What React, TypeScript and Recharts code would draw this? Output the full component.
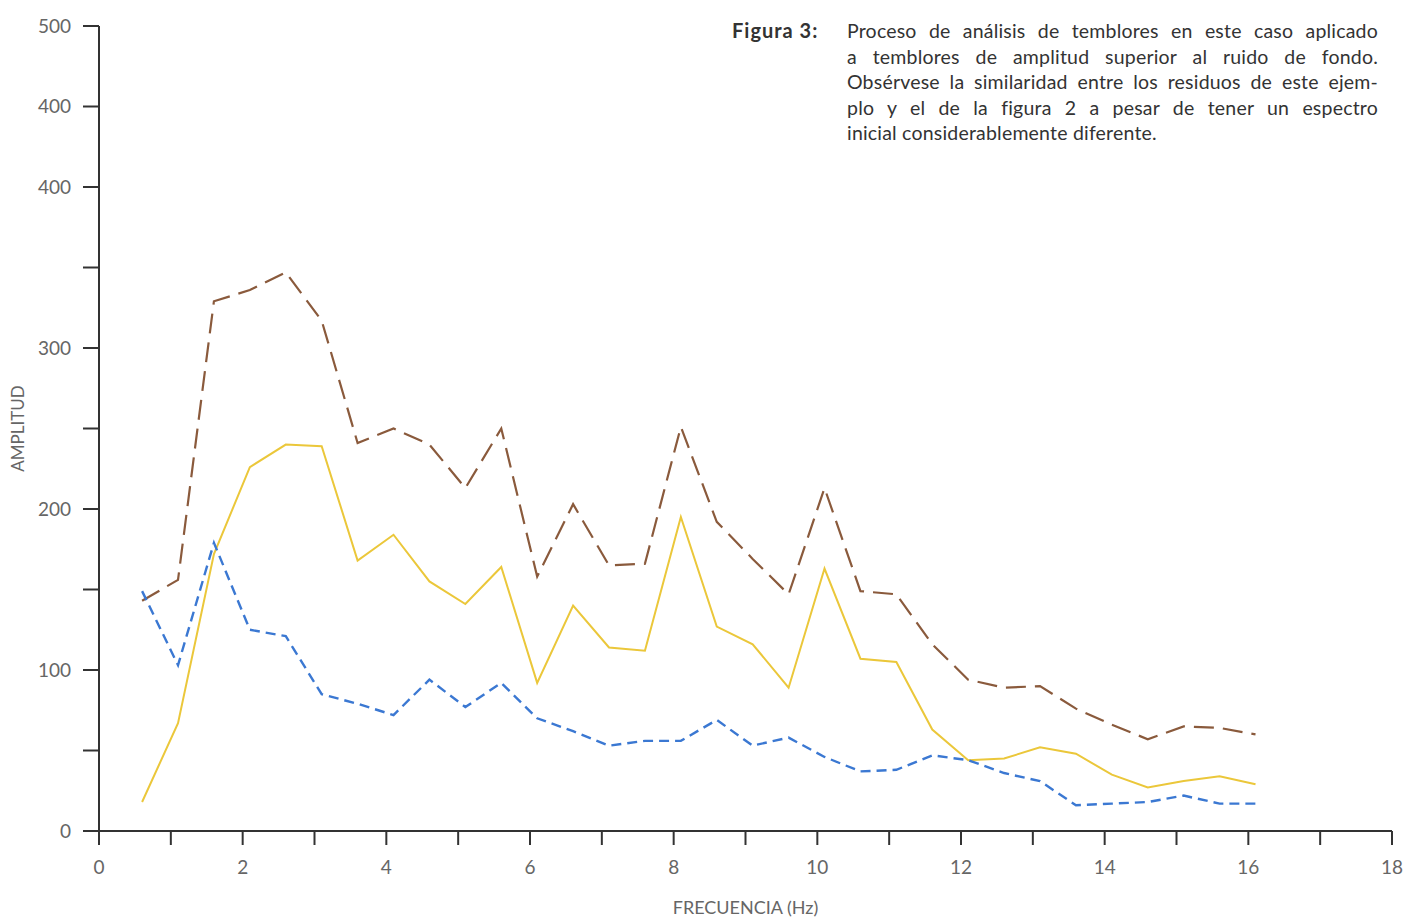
import { LineChart, Line, XAxis, YAxis, Label } from 'recharts';

const frecuencia = [
  0.6, 1.1, 1.6, 2.1, 2.6, 3.1, 3.6, 4.1, 4.6, 5.1, 5.6, 6.1, 6.6, 7.1, 7.6, 8.1,
  8.6, 9.1, 9.6, 10.1, 10.6, 11.1, 11.6, 12.1, 12.6, 13.1, 13.6, 14.1, 14.6, 15.1, 15.6, 16.1,
];
const espectroInicial = [
  143, 156, 329, 336, 347, 317, 241, 250, 240, 213, 250, 158, 203, 165, 166, 251,
  192, 169, 147, 213, 149, 147, 116, 94, 89, 90, 76, 66, 57, 65, 64, 60,
];
const espectroIntermedio = [
  18, 67, 172, 226, 240, 239, 168, 184, 155, 141, 164, 92, 140, 114, 112, 195,
  127, 116, 89, 163, 107, 105, 63, 44, 45, 52, 48, 35, 27, 31, 34, 29,
];
const residuo = [
  149, 103, 179, 125, 121, 85, 79, 72, 94, 77, 92, 70, 62, 53, 56, 56,
  69, 53, 58, 46, 37, 38, 47, 44, 36, 31, 16, 17, 18, 22, 17, 17,
];

const xTicks = [0, 1, 2, 3, 4, 5, 6, 7, 8, 9, 10, 11, 12, 13, 14, 15, 16, 17, 18];
const xTickLabels = ['0', '', '2', '', '4', '', '6', '', '8', '', '10', '', '12', '', '14', '', '16', '', '18'];
const yTicks = [0, 50, 100, 150, 200, 250, 300, 350, 400, 450, 500];
const yTickLabels = ['0', '', '100', '', '200', '', '300', '', '400', '400', '500'];

const captionLines = [
  'Proceso de análisis de temblores en este caso aplicado',
  'a temblores de amplitud superior al ruido de fondo.',
  'Obsérvese la similaridad entre los residuos de este ejem-',
  'plo y el de la figura 2 a pesar de tener un espectro',
  'inicial considerablemente diferente.',
];

const data = frecuencia.map((f, i) => ({
  f,
  inicial: espectroInicial[i],
  intermedio: espectroIntermedio[i],
  residuo: residuo[i],
}));

const font = 'Lato, "Open Sans", sans-serif';

export default function App() {
  return (
    <div style={{ position: 'absolute', left: 0, top: 0, width: 1404, height: 919, background: '#fff', fontFamily: font }}>
      <LineChart width={1404} height={919} data={data} margin={{ top: 26, right: 12, bottom: 0, left: 0 }}>
        <XAxis
          dataKey="f"
          type="number"
          domain={[0, 18]}
          ticks={xTicks}
          interval={0}
          tickFormatter={(v: number) => xTickLabels[xTicks.indexOf(v)] ?? ''}
          stroke="#333"
          strokeWidth={2}
          tickSize={14}
          tickMargin={16}
          tick={{ fill: '#666', fontSize: 19, fontFamily: font }}
          height={88}
        >
          <Label value="FRECUENCIA (Hz)" position="insideBottom" offset={5} fill="#666" fontSize={18} fontFamily={font} />
        </XAxis>
        <YAxis
          type="number"
          domain={[0, 500]}
          ticks={yTicks}
          interval={0}
          tickFormatter={(v: number) => yTickLabels[yTicks.indexOf(v)] ?? ''}
          stroke="#333"
          strokeWidth={2}
          tickSize={16}
          tickMargin={12}
          tick={{ fill: '#666', fontSize: 19, fontFamily: font }}
          width={99}
        >
          <Label value="AMPLITUD" angle={-90} position="insideLeft" offset={18} fill="#666" fontSize={17} fontFamily={font} style={{ textAnchor: 'middle' }} />
        </YAxis>
        <Line
          type="linear"
          dataKey="inicial"
          stroke="#8a5a3c"
          strokeWidth={2.2}
          strokeDasharray="20 9"
          dot={false}
          isAnimationActive={false}
        />
        <Line
          type="linear"
          dataKey="intermedio"
          stroke="#ebc73a"
          strokeWidth={2}
          dot={false}
          isAnimationActive={false}
        />
        <Line
          type="linear"
          dataKey="residuo"
          stroke="#3b78d2"
          strokeWidth={2.4}
          strokeDasharray="10 6"
          dot={false}
          isAnimationActive={false}
        />
      </LineChart>
      <div style={{ position: 'absolute', left: 732, top: 18, fontSize: 20, fontWeight: 700, letterSpacing: 1, color: '#333', lineHeight: '25.5px' }}>
        Figura 3:
      </div>
      <div style={{ position: 'absolute', left: 847, top: 18, width: 531, fontSize: 19.5, letterSpacing: 0.2, color: '#333', lineHeight: '25.5px' }}>
        {captionLines.map((line, i) => (
          <div
            key={i}
            style={{ textAlign: 'justify', textAlignLast: i < captionLines.length - 1 ? 'justify' : 'left', whiteSpace: 'nowrap' }}
          >
            {line}
          </div>
        ))}
      </div>
    </div>
  );
}
